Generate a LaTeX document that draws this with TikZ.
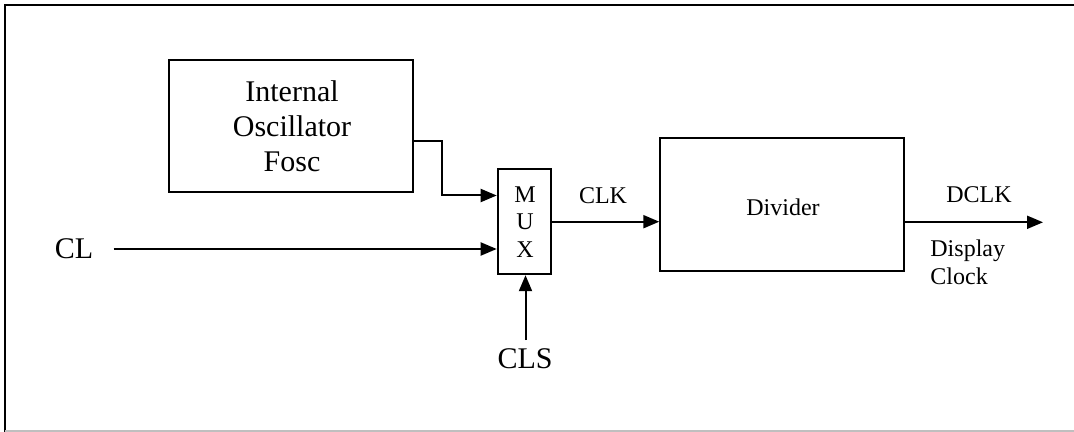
\documentclass[tikz,border=0pt]{standalone}
\usepackage{fontspec}
\setmainfont{Liberation Serif}
\usetikzlibrary{arrows.meta}
\begin{document}
\begin{tikzpicture}[x=0.5pt,y=-0.5pt,
  blk/.style={draw,line width=1pt,inner sep=0pt},
  big/.style={font=\fontsize{15pt}{17.5pt}\selectfont,align=center,inner sep=0pt},
  small/.style={font=\fontsize{12pt}{13.8pt}\selectfont,align=left,inner sep=0pt},
  conn/.style={line width=1pt,-{Triangle[length=8pt,width=6.5pt]}}]
\useasboundingbox (0,0) rectangle (1074,432);
% frame
\draw[line width=1.2pt] (5,432) -- (5,5) -- (1074,5);
\draw[line width=1pt,black!25] (5,431) -- (1074,431);
% blocks
\node[blk,minimum width=122pt,minimum height=66pt] (osc) at (291.3,126.2) {};
\node[big] (osctxt) at (292,126) {Internal\\Oscillator\\Fosc};
\node[blk,minimum width=26.5pt,minimum height=52.6pt] (mux) at (524.2,221.6) {};
\node[small,align=center] (muxtxt) at (525,222) {M\\U\\X};
\node[blk,minimum width=121.6pt,minimum height=66.7pt] (div) at (781.9,204.4) {};
\node[small] (divtxt) at (783,207) {Divider};
% labels
\node[big] (cl) at (74,249) {CL};
\node[big] (cls) at (525,359) {CLS};
\node[small] (clk) at (603,196) {CLK};
\node[small] (dclk) at (979,195) {DCLK};
\node[small,anchor=west] (disp) at (930,262) {Display\\Clock};
% coordinates
\coordinate (oscout) at (413.2,141);
\coordinate (bend) at (441.8,141);
\coordinate (clstart) at (113.6,249);
\coordinate (clsstart) at (525.5,340);
\coordinate (dclkend) at (1043,222.3);
% connectors
\draw[conn] (oscout) -- (bend) |- (mux.west |- 0,195.5);
\draw[conn] (clstart) -- (mux.west |- 0,249);
\draw[conn] (mux.east |- 0,221.7) -- (div.west |- 0,221.7);
\draw[conn] (clsstart) -- (mux.south -| clsstart);
\draw[conn] (div.east |- 0,222.3) -- (dclkend);
\end{tikzpicture}
\end{document}
